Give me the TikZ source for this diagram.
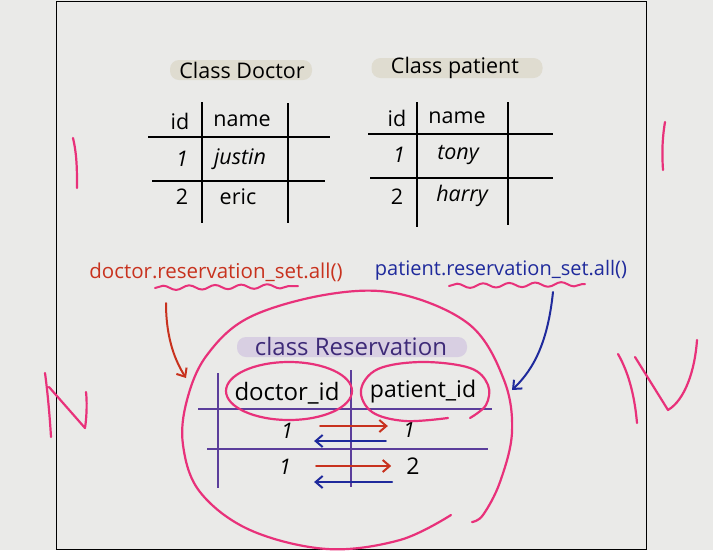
\documentclass[tikz,border=0pt]{standalone}
\usepackage{fontspec}
\setmainfont{Open Sans}
\usetikzlibrary{arrows.meta,decorations.pathmorphing}

\definecolor{pagegray}{HTML}{EAEAE8}
\definecolor{hlpink}{HTML}{E8317A}
\definecolor{callred}{HTML}{C8321E}
\definecolor{callblue}{HTML}{1F2A9C}
\definecolor{respurple}{HTML}{5B3E9B}
\definecolor{restext}{HTML}{3E2A78}
\definecolor{tagtan}{HTML}{DFDCD0}
\definecolor{taglilac}{HTML}{D8CFE2}

\begin{document}
\begin{tikzpicture}[x=1pt, y=-1pt,
    tabline/.style={line width=1.8pt},
    resline/.style={line width=1.6pt, respurple},
    pen/.style={line width=2.2pt, hlpink, line cap=round, line join=round},
    cell/.style={inner sep=0pt, font=\fontsize{21.5}{21.5}\selectfont},
    tag/.style={rounded corners=9pt, inner sep=0pt, minimum height=20pt},
    callarrow/.style={line width=2pt, line cap=round, -{Straight Barb[length=7pt,width=12pt]}},
    wavy/.style={pen, line width=2pt, decorate, decoration={snake, amplitude=2.2pt, segment length=26pt}}]
    \useasboundingbox (0,0) rectangle (713,550);

    % page
    \fill[pagegray] (0,0) rectangle (713,550);
    \draw[line width=1pt] (56,1) rectangle (646,549);

    % Class Doctor
    \node[tag, fill=tagtan, minimum width=142pt] (doctag) at (241,70) {};
    \node[cell] (doctitle) at (242,70) {Class Doctor};
    \draw[tabline] (202,102) -- (202,223);
    \draw[tabline] (288,103) -- (288,223);
    \draw[tabline] (148,137) -- (330,137);
    \draw[tabline] (152,181) -- (325,181);
    \node[cell] (did) at (180,121) {id};
    \node[cell] (dname) at (242,121) {name};
    \node[cell] (dn1) at (182,159) {\itshape 1};
    \node[cell] (dv1) at (240,159) {\itshape justin};
    \node[cell] (dn2) at (182,197) {2};
    \node[cell] (dv2) at (238,197) {eric};

    % Class patient
    \node[tag, fill=tagtan, minimum width=171pt] (pattag) at (457,68) {};
    \node[cell] (pattitle) at (455,68) {Class patient};
    \draw[tabline] (417,102) -- (417,227);
    \draw[tabline] (508,102) -- (508,225);
    \draw[tabline] (368,134) -- (553,134);
    \draw[tabline] (370,178) -- (553,178);
    \node[cell] (pid) at (397,118) {id};
    \node[cell] (pname) at (457,118) {name};
    \node[cell] (pn1) at (399,155) {\itshape 1};
    \node[cell] (pv1) at (458,155) {\itshape tony};
    \node[cell] (pn2) at (397,197) {2};
    \node[cell] (pv2) at (462,196) {\itshape harry};

    % reverse lookups
    \node[inner sep=0pt, callred, font=\fontsize{20.5}{20.5}\selectfont] (dcall) at (216,272) {doctor.reservation\_set.all()};
    \node[inner sep=0pt, callblue, font=\fontsize{20}{20}\selectfont] (pcall) at (501,270) {patient.reservation\_set.all()};
    \coordinate (dwaveA) at (155,288);
    \coordinate (dwaveB) at (298,286);
    \coordinate (pwaveA) at (449,286);
    \coordinate (pwaveB) at (585,284);
    \draw[wavy] (dwaveA) -- (dwaveB);
    \draw[wavy] (pwaveA) -- (pwaveB);
    \coordinate (dtail) at (166,303);
    \coordinate (dhead) at (186,378);
    \coordinate (ptail) at (553,292);
    \coordinate (phead) at (512,390);
    \draw[callarrow, callred] (dtail) .. controls (166,340) and (176,362) .. (dhead);
    \draw[callarrow, callblue] (ptail) .. controls (548,340) and (535,368) .. (phead);

    % class Reservation
    \node[tag, fill=taglilac, minimum width=230pt] (restag) at (352,347) {};
    \node[cell, restext, font=\fontsize{24}{24}\selectfont] (restitle) at (351,346) {class Reservation};
    \draw[resline] (218,373) -- (218,488);
    \draw[resline] (351,370) -- (351,487);
    \draw[resline] (198,409) -- (492,409);
    \draw[resline] (207,449) -- (488,449);
    \node[cell, font=\fontsize{24}{24}\selectfont] (rdoc) at (287,393) {doctor\_id};
    \node[cell, font=\fontsize{23}{23}\selectfont] (rpat) at (423,392) {patient\_id};
    \node[cell] (rd1) at (287,431) {\itshape 1};
    \node[cell] (rp1) at (409,430) {\itshape 1};
    \node[cell] (rd2) at (285,467) {\itshape 1};
    \node[cell, font=\fontsize{23}{23}\selectfont] (rp2) at (413,466) {2};
    \draw[callarrow, callred] ([xshift=27pt, yshift=5pt]rd1.east) -- ([xshift=-15pt, yshift=4pt]rp1.west);
    \draw[callarrow, callblue] ([xshift=-17pt, yshift=-11pt]rp1.west) -- ([xshift=21pt, yshift=-10pt]rd1.east);
    \draw[callarrow, callred] ([xshift=25pt, yshift=1pt]rd2.east) -- ([xshift=-15pt, yshift=0pt]rp2.west);
    \draw[callarrow, callblue] ([xshift=-14pt, yshift=-16pt]rp2.west) -- ([xshift=23pt, yshift=-15pt]rd2.east);

    % pink circling
    \draw[pen] (rdoc.center) ++(2,-2) ellipse [x radius=63pt, y radius=29pt];
    \draw[pen] plot[smooth, tension=0.6] coordinates {(470,418) (486,405) (488,385) (470,368) (422,362) (378,369) (361,390) (372,412) (405,421) (448,418)};
    \draw[pen] plot[smooth, tension=0.6] coordinates {(451,515) (400,540) (327,549) (250,530) (200,492) (183,445) (187,400) (207,355) (250,317) (330,294) (400,294) (470,325) (504,380) (512,432) (500,482) (483,515) (472,522)};

    % side marks
    \draw[pen] (73,138) .. controls (77,155) and (77,170) .. (77,188);
    \draw[pen] (665,122) .. controls (662,140) and (662,155) .. (663,170);
    \draw[pen] (45,373) .. controls (48,395) and (50,420) .. (51,437);
    \draw[pen] (49,387) -- (85,428) .. controls (87,415) and (87,400) .. (86,392);
    \draw[pen] (618,354) .. controls (630,375) and (635,400) .. (637,423);
    \draw[pen] (635,357) -- (668,410) .. controls (685,400) and (695,370) .. (697,340);
\end{tikzpicture}
\end{document}
